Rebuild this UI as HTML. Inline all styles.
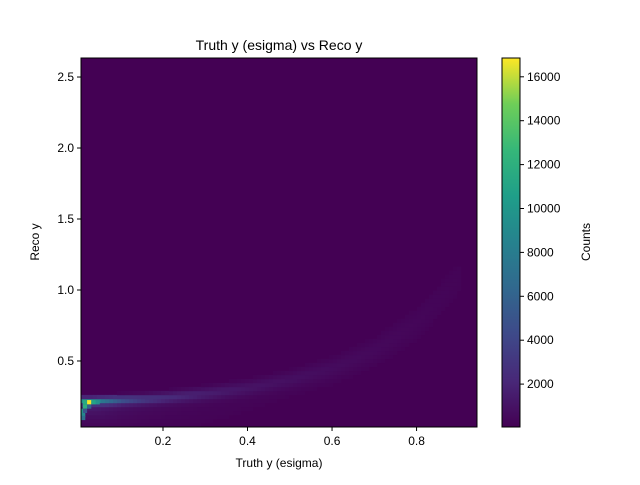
<!DOCTYPE html>
<html><head><meta charset="utf-8"><style>
body{margin:0;background:#fff;font-family:"Liberation Sans",sans-serif}
svg text{font-family:"Liberation Sans",sans-serif;fill:#000}
</style></head><body>
<svg id="c" width="640" height="480" xmlns="http://www.w3.org/2000/svg">
<defs><linearGradient id="vg" x1="0" y1="1" x2="0" y2="0">
<stop offset="0" stop-color="#440154"/><stop offset="0.125" stop-color="#482878"/><stop offset="0.25" stop-color="#3e4989"/><stop offset="0.375" stop-color="#31688e"/><stop offset="0.5" stop-color="#26828e"/><stop offset="0.625" stop-color="#1f9e89"/><stop offset="0.75" stop-color="#35b779"/><stop offset="0.875" stop-color="#6ece58"/><stop offset="1" stop-color="#fde725"/></linearGradient>
<clipPath id="pc"><rect x="81" y="58" width="396" height="369"/></clipPath></defs>
<text x="279" y="50" font-size="14" text-anchor="middle">Truth y (esigma) vs Reco y</text>
<rect x="81" y="58" width="396" height="369" fill="#440154"/>
<g id="cells" clip-path="url(#pc)"></g>
<rect x="81" y="58" width="396" height="369" fill="none" stroke="#000" stroke-width="1"/>
<g id="xt"></g>
<g id="yt"></g>
<text x="279" y="467" font-size="12" text-anchor="middle">Truth y (esigma)</text>
<text transform="translate(39,242) rotate(-90)" font-size="12" text-anchor="middle">Reco y</text>
<rect x="502" y="58" width="18" height="369" fill="url(#vg)" stroke="#000" stroke-width="1"/>
<g id="ct"></g>
<text transform="translate(590,242) rotate(-90)" font-size="12" text-anchor="middle">Counts</text>
</svg>
<script>
const xTicks=[0.2,0.4,0.6,0.8];
const yTicks=[0.5,1.0,1.5,2.0,2.5];
const cTicks=[2000,4000,6000,8000,10000,12000,14000,16000];
// ridge anchors (truth x, reco y center, count, spread in y)
const ridgeX=[0.03,0.06,0.1,0.15,0.2,0.3,0.4,0.5,0.6,0.7,0.8,0.9];
const ridgeY=[0.22,0.22,0.225,0.23,0.24,0.27,0.31,0.37,0.45,0.58,0.78,1.1];
const ridgeC=[9500,7000,4800,3300,2400,1500,1000,750,550,400,280,180];
const ridgeW=[0.015,0.018,0.02,0.022,0.025,0.03,0.035,0.04,0.05,0.06,0.08,0.1];
// explicit hot cells near origin: x, y, count
const hotX=[0.025,0.015,0.015,0.006,0.006,0.006,0.035,0.045,0.025,0.015];
const hotY=[0.21,0.21,0.18,0.15,0.12,0.1,0.21,0.21,0.18,0.15];
const hotC=[16800,11500,12000,10500,9000,7000,11000,9500,6000,5000];
const X0=0.006,X1=0.943,Y0=0.035,Y1=2.634,CMAX=16900;
const px=v=>81+(v-X0)/(X1-X0)*396, py=v=>427-(v-Y0)/(Y1-Y0)*369, pc=v=>428-v/2000*43.9;
const vir=[[68,1,84],[72,40,120],[62,73,137],[49,104,142],[38,130,142],[31,158,137],[53,183,121],[110,206,88],[253,231,37]];
function col(v){let t=Math.max(0,Math.min(1,v/CMAX))*8,i=Math.min(7,Math.floor(t)),f=t-i,a=vir[i],b=vir[i+1];
return 'rgb('+a.map((c,k)=>Math.round(c+(b[k]-c)*f)).join(',')+')';}
const NS='http://www.w3.org/2000/svg',g=document.getElementById('cells');
const dx=(X1-X0)/99,dy=(Y1-Y0)/92;
function cell(x,y,v){const r=document.createElementNS(NS,'rect');
r.setAttribute('x',px(x).toFixed(1));r.setAttribute('y',py(y+dy).toFixed(1));
r.setAttribute('width',(396/99+0.3).toFixed(2));r.setAttribute('height',(369/92+0.3).toFixed(2));
r.setAttribute('fill',col(v));

g.appendChild(r);}
for(let xv=X0;xv<X1&&xv<=ridgeX[ridgeX.length-1];xv+=dx){
 let j=0;while(j<ridgeX.length-2&&xv>ridgeX[j+1])j++;
 let f=Math.max(0,Math.min(1,(xv-ridgeX[j])/(ridgeX[j+1]-ridgeX[j])));
 let yc=ridgeY[j]+(ridgeY[j+1]-ridgeY[j])*f,c=ridgeC[j]+(ridgeC[j+1]-ridgeC[j])*f,w=ridgeW[j]+(ridgeW[j+1]-ridgeW[j])*f;
 for(let yv=Y0;yv<yc+w*2;yv+=dy){let d=(yv+dy/2-yc);let v=d>0?c*Math.exp(-d*d/(2*w*w)):c*(0.75*Math.exp(-d*d/(2*w*w))+0.25*Math.exp(d/(w*6)));if(v>120)cell(xv,yv,v);}
}
hotX.forEach((x,i)=>cell(Math.max(X0,x-dx/2),hotY[i]-dy/2,hotC[i]));
const xt=document.getElementById('xt');
xTicks.forEach(t=>{const x=px(t);xt.insertAdjacentHTML('beforeend',`<line x1="${x}" y1="427" x2="${x}" y2="431" stroke="#000"/><text x="${x}" y="445" font-size="12" text-anchor="middle">${t.toFixed(1)}</text>`);});
const yt=document.getElementById('yt');
yTicks.forEach(t=>{const y=py(t);yt.insertAdjacentHTML('beforeend',`<line x1="77" y1="${y}" x2="81" y2="${y}" stroke="#000"/><text x="74" y="${y+4}" font-size="12" text-anchor="end">${t.toFixed(1)}</text>`);});
const ct=document.getElementById('ct');
cTicks.forEach(t=>{const y=pc(t);ct.insertAdjacentHTML('beforeend',`<line x1="520" y1="${y}" x2="524" y2="${y}" stroke="#000"/><text x="527" y="${y+4}" font-size="12">${t}</text>`);});
</script>
</body></html>
